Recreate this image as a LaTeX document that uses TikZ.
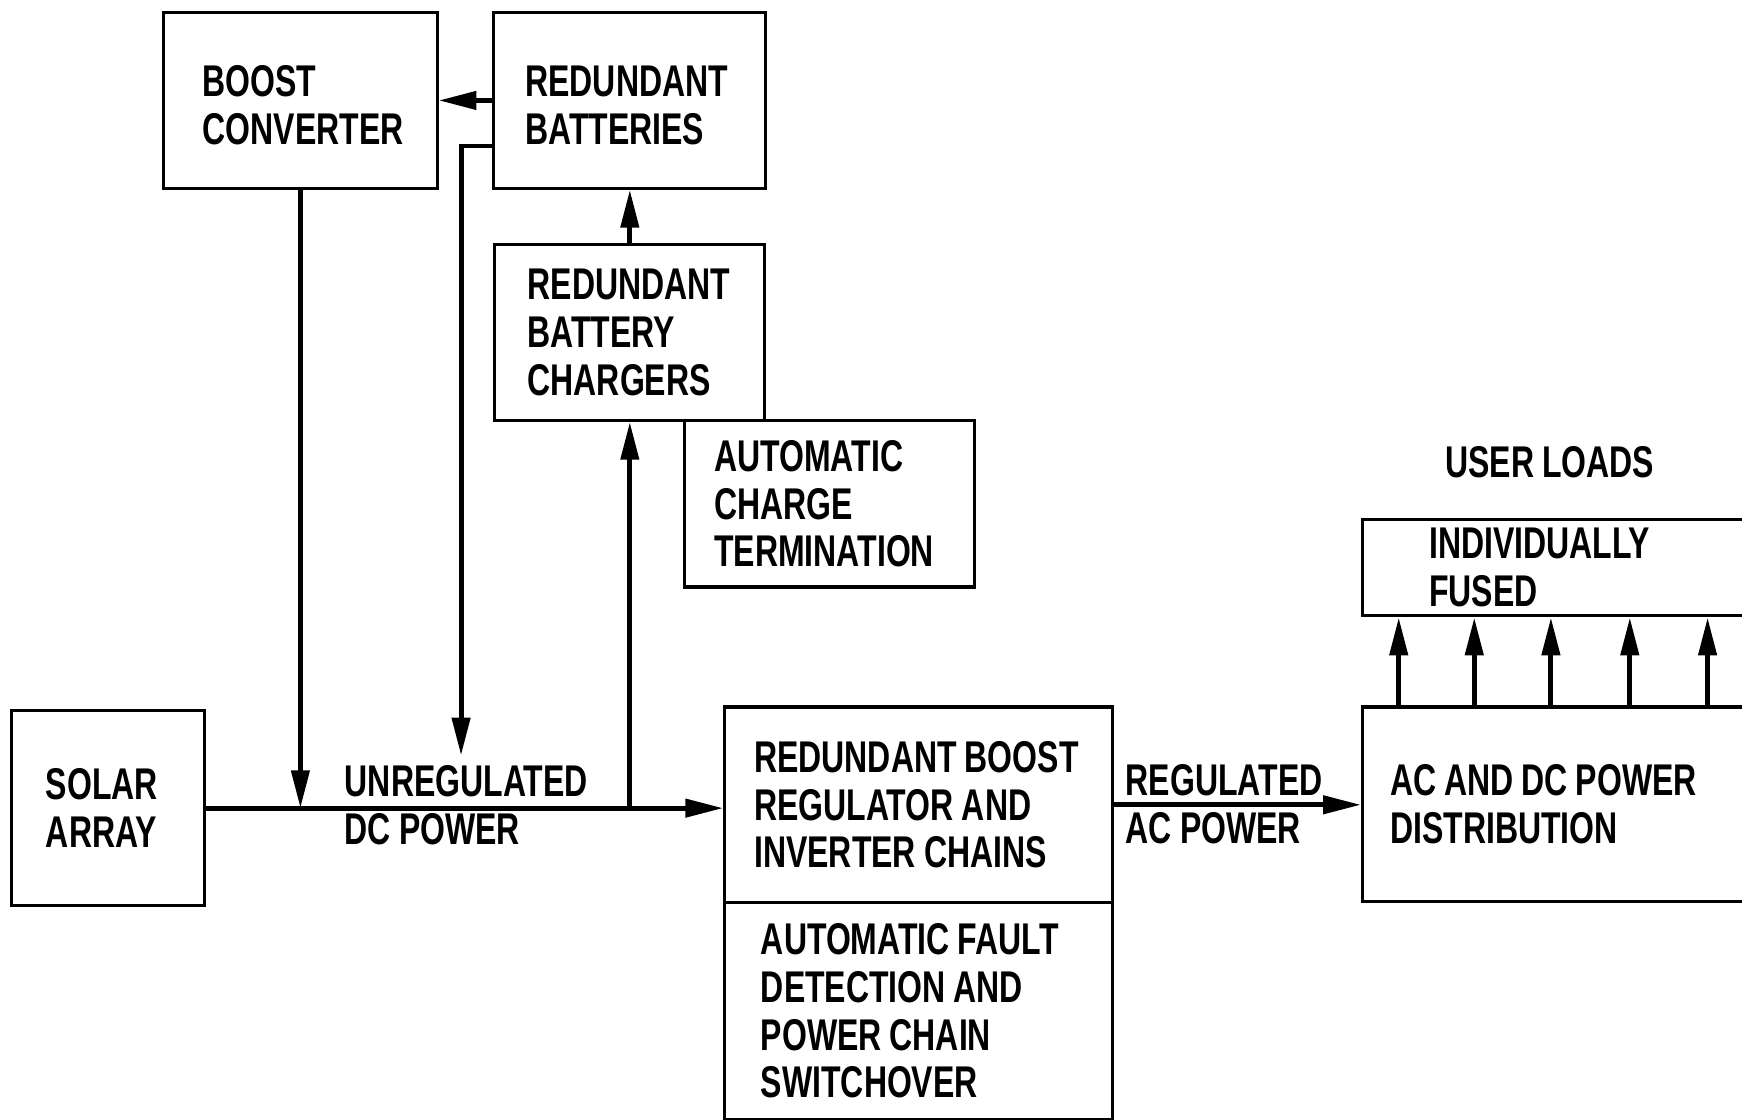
\documentclass[tikz,border=0pt]{standalone}
\usepackage{fontspec}
\setmainfont{Liberation Sans}[FakeStretch=0.72,WordSpace=0.9]
\usetikzlibrary{arrows.meta,calc}
\begin{document}
\begin{tikzpicture}[x=0.5pt,y=-0.5pt,
  box/.style={draw,line width=1.4pt,anchor=north west,align=flush left,
    font=\bfseries\fontsize{20}{21.5}\selectfont,inner ysep=0pt},
  lbl/.style={align=flush left,font=\bfseries\fontsize{20}{21.5}\selectfont,inner sep=0pt},
  conn/.style={line width=2.2pt},
  tip/.style={-{Triangle[length=17pt,width=8pt]}},
  arr/.style={conn,tip}]
\useasboundingbox (0,0) rectangle (1568,1008);
\fill[white] (0,0) rectangle (1568,1008);

\node[box,minimum width=123pt,minimum height=79pt,inner xsep=17.5pt,text width=88pt] (boost) at (146,10) {\rule{0pt}{18pt}BOOST\\CONVERTER};
\node[box,minimum width=122.5pt,minimum height=79pt,inner xsep=14pt,text width=94pt] (batt) at (443,10) {\rule{0pt}{18pt}REDUNDANT\\BATTERIES};
\node[box,minimum width=121.5pt,minimum height=79pt,inner xsep=14.5pt,text width=92pt] (charg) at (444,219) {REDUNDANT\\BATTERY\\CHARGERS};
\node[box,minimum width=130.5pt,minimum height=75pt,inner xsep=13pt,text width=104pt] (atc) at (615,377) {AUTOMATIC\\CHARGE\\TERMINATION};
\node[box,minimum width=87pt,minimum height=88pt,inner xsep=15.5pt,text width=56pt] (solar) at (9,638) {SOLAR\\ARRAY};
\node[box,minimum width=174.5pt,minimum height=88pt,inner xsep=13pt,text width=148pt] (reg) at (651,635) {REDUNDANT~BOOST\\REGULATOR~AND\\INVERTER~CHAINS};
\node[box,minimum width=174.5pt,minimum height=97.5pt,inner xsep=16pt,text width=142pt] (fault) at (651,811) {AUTOMATIC~FAULT\\DETECTION~AND\\POWER~CHAIN\\SWITCHOVER};
\node[box,minimum width=180pt,minimum height=87.5pt,inner xsep=12.5pt,text width=155pt] (dist) at (1225,635) {AC~AND~DC~POWER\\DISTRIBUTION};
\node[box,minimum width=180pt,minimum height=43.5pt,inner xsep=30pt,text width=120pt] (fused) at (1225,466) {INDIVIDUALLY\\FUSED};
\node[lbl] (user) at (1395,416) {USER~LOADS};
\node[lbl,anchor=west] (unreg) at (310,725) {UNREGULATED\\DC~POWER};
\node[lbl,anchor=west] (regac) at (1013,724) {REGULATED\\AC~POWER};

\coordinate (dn) at (415,680);

\draw[arr] (solar.east) -- (solar.east -| reg.west);
\draw[arr] (boost.south) -- (boost.south |- solar.east);
\draw[arr] (batt.west) -- (boost.east);
\draw[arr] ($(batt.west)+(0,41)$) -| (dn);
\draw[arr] (charg.south |- solar.east) -- (charg.south);
\draw[arr] (charg.north) -- (batt.south);
\draw[arr] (reg.east) -- (reg.east -| dist.west);
\foreach \dx in {17,51,85.5,121,156}
  \draw[arr] ([xshift=\dx pt]dist.north west) -- ([xshift=\dx pt]fused.south west);
\end{tikzpicture}
\end{document}
